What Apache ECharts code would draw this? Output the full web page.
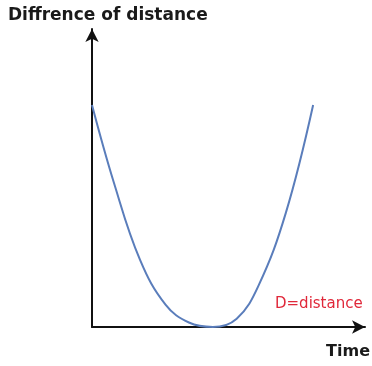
<!DOCTYPE html>
<html>
<head>
<meta charset="utf-8">
<script src="https://cdn.jsdelivr.net/npm/echarts@6/dist/echarts.min.js"></script>
<style>
  html, body { margin: 0; padding: 0; background: #ffffff; }
  #chart { width: 372px; height: 366px; }
</style>
</head>
<body>
<div id="chart"></div>
<script>
// Time (arbitrary units) and the difference of distance at that time
const timeValues = [0, 8, 17.6, 27, 35.5, 44.3, 53, 61, 71, 81];
const distanceValues = [74.5, 48.5, 22.5, 7.4, 1.5, 0, 2.8, 13.9, 38.3, 74.5];

const yTitle = 'Diffrence of distance';
const xTitle = 'Time';
const note = 'D=distance';

const points = timeValues.map((t, i) => [t, distanceValues[i]]);

const chart = echarts.init(document.getElementById('chart'));
const fontFamily = '"DejaVu Sans", sans-serif';

const axisBase = {
  type: 'value', min: 0, max: 100,
  axisLine: { show: true, symbol: ['none', 'arrow'], symbolSize: [10, 13], lineStyle: { color: '#111', width: 2 } },
  axisTick: { show: false }, axisLabel: { show: false }, splitLine: { show: false }
};

chart.setOption({
  animation: false,
  backgroundColor: '#ffffff',
  grid: { left: 92, right: 7, top: 29, bottom: 39 },
  xAxis: axisBase,
  yAxis: axisBase,
  graphic: [
    { type: 'text', left: 8, top: 7, style: { text: yTitle, font: 'bold 17px ' + fontFamily, fill: '#1a1a1a' } },
    { type: 'text', right: 2, top: 344, style: { text: xTitle, font: 'bold 16px ' + fontFamily, fill: '#1a1a1a' } },
    { type: 'text', left: 275, top: 297, style: { text: note, font: '15px ' + fontFamily, fill: '#e0283a' } }
  ],
  series: [{
    type: 'line',
    data: points,
    smooth: 0.4,
    showSymbol: false,
    lineStyle: { color: '#5a7dbb', width: 2 }
  }]
});
</script>
</body>
</html>
